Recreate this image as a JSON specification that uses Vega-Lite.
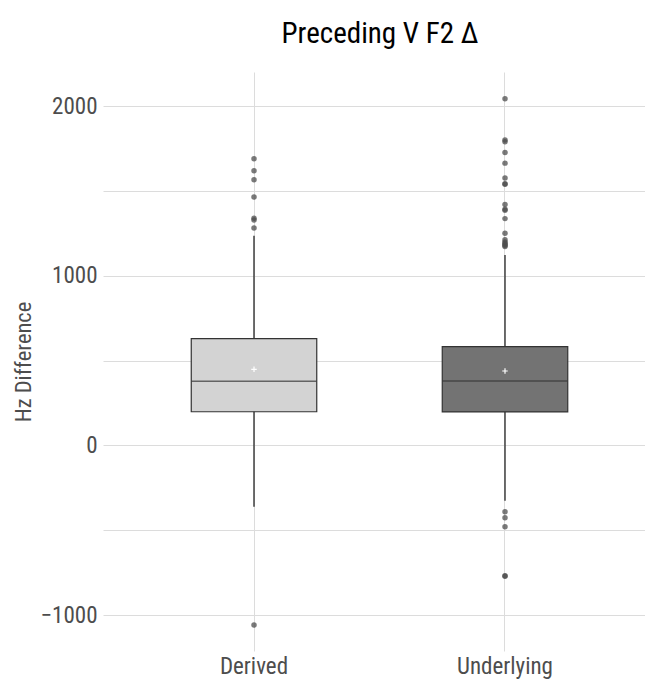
{
  "$schema": "https://vega.github.io/schema/vega-lite/v6.json",
  "autosize": {"type": "none"},
  "width": 542,
  "height": 579,
  "padding": {"left": 103, "top": 72, "right": 0, "bottom": 30},
  "background": "white",
  "config": {
    "view": {"stroke": null},
    "font": "Roboto Condensed, Liberation Sans Narrow, DejaVu Sans Condensed, Roboto, sans-serif"
  },
  "title": {
    "text": "Preceding V F2 Δ",
    "fontSize": 29,
    "fontWeight": "normal",
    "color": "#000000",
    "anchor": "middle",
    "dx": 6,
    "offset": 23
  },
  "datasets": {
    "summary": [
      {"group": "Derived", "lower": -361, "q1": 199, "median": 378, "q3": 630, "upper": 1236, "mean": 449},
      {"group": "Underlying", "lower": -325, "q1": 198, "median": 380, "q3": 583, "upper": 1123, "mean": 439}
    ],
    "outliers": [
      {"group": "Derived", "value": 1690},
      {"group": "Derived", "value": 1619},
      {"group": "Derived", "value": 1566},
      {"group": "Derived", "value": 1464},
      {"group": "Derived", "value": 1339},
      {"group": "Derived", "value": 1329},
      {"group": "Derived", "value": 1282},
      {"group": "Derived", "value": -1058},
      {"group": "Underlying", "value": 2044},
      {"group": "Underlying", "value": 1800},
      {"group": "Underlying", "value": 1790},
      {"group": "Underlying", "value": 1726},
      {"group": "Underlying", "value": 1664},
      {"group": "Underlying", "value": 1577},
      {"group": "Underlying", "value": 1543},
      {"group": "Underlying", "value": 1540},
      {"group": "Underlying", "value": 1420},
      {"group": "Underlying", "value": 1392},
      {"group": "Underlying", "value": 1386},
      {"group": "Underlying", "value": 1337},
      {"group": "Underlying", "value": 1251},
      {"group": "Underlying", "value": 1212},
      {"group": "Underlying", "value": 1200},
      {"group": "Underlying", "value": 1192},
      {"group": "Underlying", "value": 1185},
      {"group": "Underlying", "value": 1178},
      {"group": "Underlying", "value": 1172},
      {"group": "Underlying", "value": -390},
      {"group": "Underlying", "value": -426},
      {"group": "Underlying", "value": -479},
      {"group": "Underlying", "value": -768},
      {"group": "Underlying", "value": -770}
    ]
  },
  "encoding": {
    "x": {
      "field": "group",
      "type": "nominal",
      "scale": {"type": "band", "domain": ["Derived", "Underlying"], "paddingInner": 0, "paddingOuter": 0.0797, "align": 0.6375},
      "axis": {
        "title": null,
        "labelAngle": 0,
        "labelFontSize": 23,
        "labelColor": "#4d4d4d",
        "labelPadding": 4,
        "domain": false,
        "ticks": false,
        "grid": true,
        "gridColor": "#dcdcdc",
        "gridWidth": 1,
        "bandPosition": 0.5
      }
    }
  },
  "layer": [
    {
      "data": {"name": "summary"},
      "mark": {"type": "rule", "color": "#333333", "strokeWidth": 1.4},
      "encoding": {
        "y": {
          "field": "lower",
          "type": "quantitative",
          "scale": {"domain": [-1211, 2201], "nice": false, "zero": false},
          "axis": {
            "title": "Hz Difference",
            "titleFontSize": 22.5,
            "titleFontWeight": "normal",
            "titleColor": "#4d4d4d",
            "titlePadding": 5,
            "values": [-1000, -500, 0, 500, 1000, 1500, 2000],
            "labelExpr": "datum.value % 1000 == 0 ? format(datum.value, 'd') : ''",
            "labelFontSize": 23,
            "labelColor": "#4d4d4d",
            "labelPadding": 6,
            "domain": false,
            "ticks": false,
            "grid": true,
            "gridColor": "#dcdcdc",
            "gridWidth": 1
          }
        },
        "y2": {"field": "upper"}
      }
    },
    {
      "data": {"name": "summary"},
      "mark": {"type": "bar", "width": {"band": 0.5}, "stroke": "#333333", "strokeWidth": 1.2},
      "encoding": {
        "y": {"field": "q1", "type": "quantitative"},
        "y2": {"field": "q3"},
        "fill": {
          "field": "group",
          "type": "nominal",
          "scale": {"domain": ["Derived", "Underlying"], "range": ["#d3d3d3", "#737373"]},
          "legend": null
        }
      }
    },
    {
      "data": {"name": "summary"},
      "mark": {"type": "tick", "orient": "horizontal", "size": 125, "thickness": 1.5, "color": "#333333"},
      "encoding": {
        "y": {"field": "median", "type": "quantitative"}
      }
    },
    {
      "data": {"name": "summary"},
      "mark": {"type": "point", "shape": "M-1,0L1,0M0,-1L0,1", "size": 30, "stroke": "#ffffff", "strokeWidth": 1.2, "filled": false, "opacity": 1},
      "encoding": {
        "y": {"field": "mean", "type": "quantitative"}
      }
    },
    {
      "data": {"name": "outliers"},
      "mark": {"type": "circle", "size": 30, "color": "#4d4d4d", "opacity": 0.75},
      "encoding": {
        "y": {"field": "value", "type": "quantitative"}
      }
    }
  ]
}
